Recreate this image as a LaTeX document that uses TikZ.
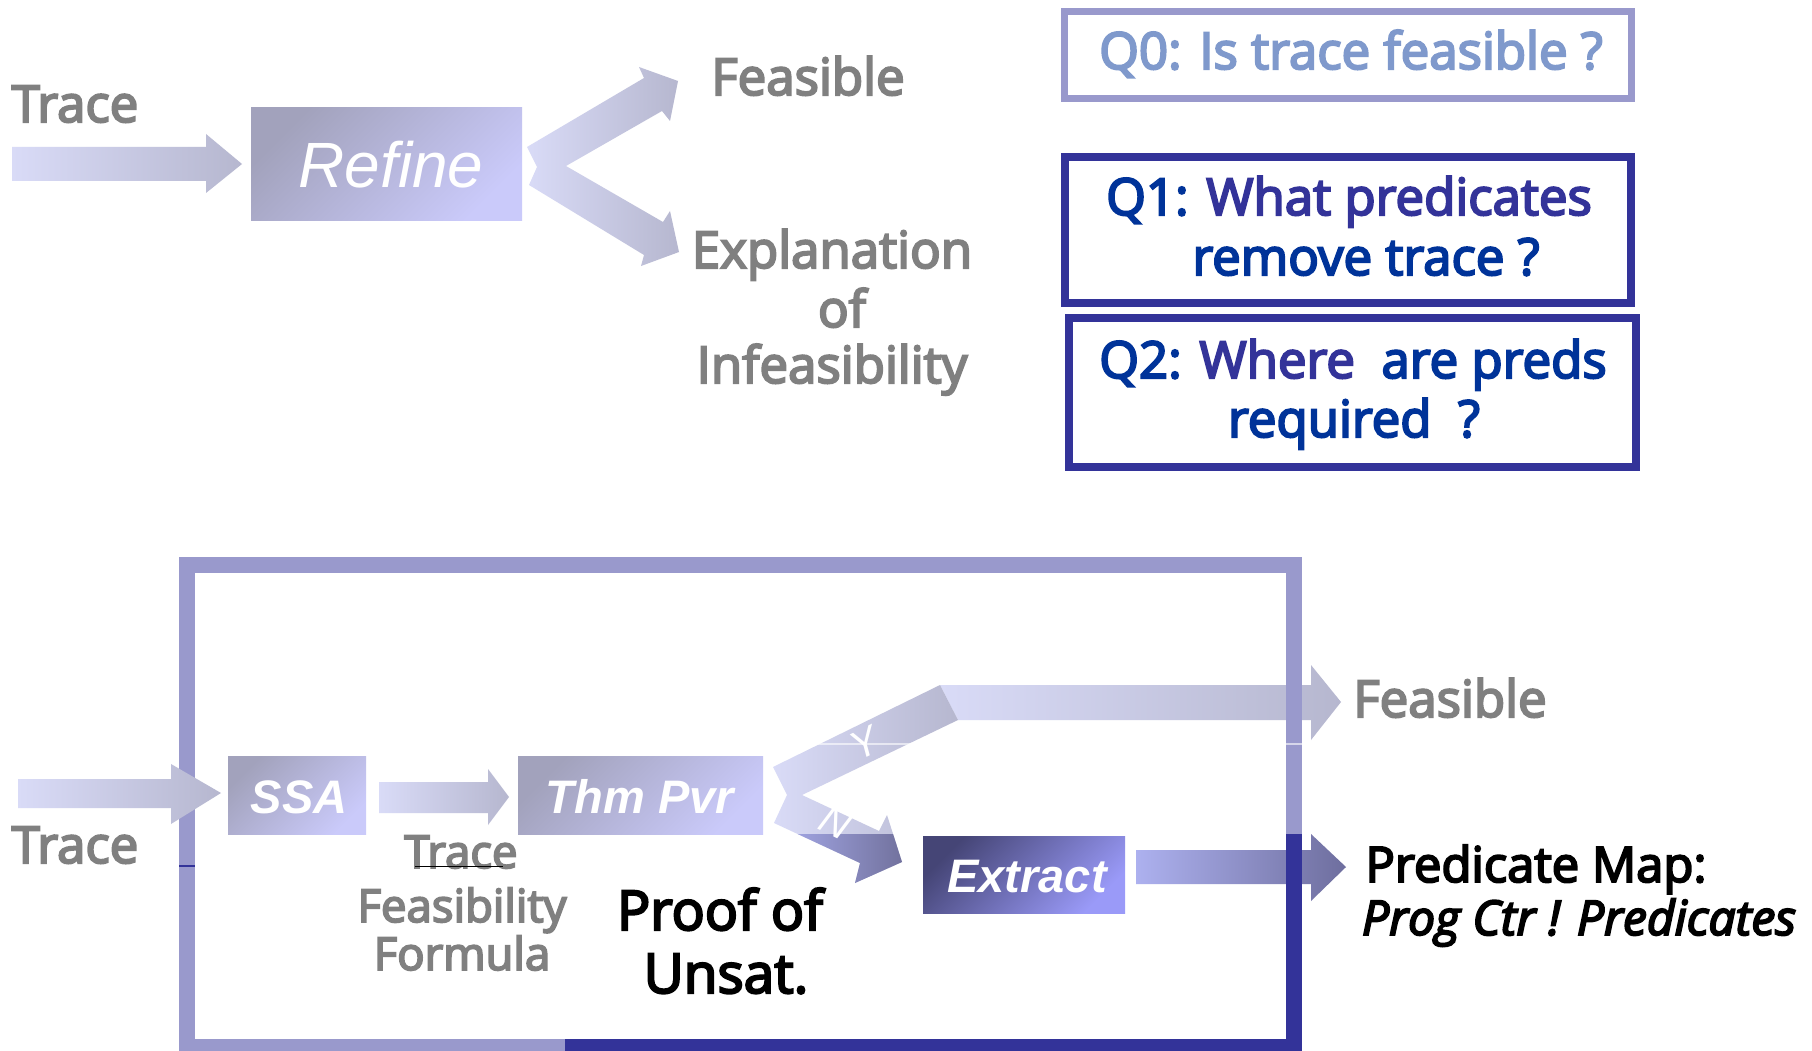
\documentclass[tikz,border=0pt]{standalone}
\usepackage{fontspec}
\newfontfamily\hs[FakeBold=4]{Open Sans}
\newfontfamily\ar{Liberation Sans}
\definecolor{labgray}{HTML}{808080}
\definecolor{qlight}{HTML}{9999CC}
\definecolor{qdark}{HTML}{333399}
\definecolor{qtextzero}{HTML}{7F99CC}
\definecolor{qblue}{HTML}{003399}
\definecolor{boxA}{HTML}{A2A2BC}
\definecolor{boxB}{HTML}{CACAFA}
\definecolor{arrL}{HTML}{D9DBF7}
\definecolor{arrR}{HTML}{B6B7CF}
\definecolor{extA}{HTML}{454576}
\definecolor{extB}{HTML}{9A9AF8}
\definecolor{prL}{HTML}{ADB1EF}
\definecolor{prR}{HTML}{6E6E9E}
\definecolor{nL}{HTML}{A8ACEC}
\definecolor{nR}{HTML}{72729E}
\begin{document}
\begin{tikzpicture}[x=1pt,y=-1pt,
  lbl/.style={inner sep=0pt, anchor=base, text=labgray, font=\hs\fontsize{51}{57}\selectfont},
  flbl/.style={inner sep=0pt, anchor=base, text=labgray, font=\hs\fontsize{45.5}{50}\selectfont},
  blk/.style={inner sep=0pt, anchor=base, text=black, font=\hs\fontsize{55}{62}\selectfont},
  qtxt/.style={inner sep=0pt, anchor=base, font=\hs\fontsize{51}{56}\selectfont},
  procbox/.style={top color=boxA, bottom color=boxB, shading angle=45, draw=none},
  boxtxt/.style={inner sep=0pt, anchor=base, text=white, font=\ar\bfseries\itshape\fontsize{47}{52}\selectfont},
  fatarrow/.style={left color=arrL, right color=arrR, draw=none},
  yn/.style={inner sep=0pt, text=white, font=\ar\itshape\fontsize{40}{44}\selectfont}]
\useasboundingbox (0,0) rectangle (1812,1051);
\fill[white] (0,0) rectangle (1812,1051);

% ---------- top part ----------
\shade[fatarrow] (12,147) -- (206,147) -- (206,134) -- (242,164) -- (206,193) -- (206,181) -- (12,181) -- cycle;
\shade[procbox] (251,108) rectangle (522,221);
\node[inner sep=0pt, anchor=base, text=white, font=\ar\itshape\fontsize{64}{70}\selectfont] (refine) at (391,188) {Refine};
\shade[fatarrow] (527,147) -- (644,78) -- (639,67) -- (678,81) -- (670,121) -- (662,111) -- (566,166)
  -- (663,222) -- (670,211) -- (679,252) -- (641,266) -- (644,255) -- (529,185) -- (537,167) -- cycle;
\node[lbl] (tracetop) at (75,122) {Trace};
\node[lbl] (feastop) at (808,95) {Feasible};
\node[lbl] (expl1) at (832,268) {Explanation};
\node[lbl] (expl2) at (842,327) {of};
\node[lbl] (expl3) at (832,383) {Infeasibility};

% question boxes
\draw[qlight, line width=7] (1064.5,11.5) rectangle (1631.5,98.5);
\node[qtxt, text=qtextzero] (q0) at (1351,69) {Q0: Is trace feasible ?};
\draw[qdark, line width=8] (1065,157) rectangle (1631,303);
\node[qtxt] (q1a) at (1349,215) {\textcolor{qblue}{Q1:} \textcolor{qdark}{What predicates}};
\node[qtxt, text=qblue] (q1b) at (1366,275) {remove trace ?};
\draw[qdark, line width=8] (1069,318) rectangle (1636,467);
\node[qtxt] (q2a) at (1353,378) {\textcolor{qblue}{Q2:} \textcolor{qdark}{Where}\ \ \textcolor{qblue}{are preds}};
\node[qtxt, text=qblue] (q2b) at (1354,437) {required\ \ ?};

% ---------- bottom part ----------
% arrows leaving the frame (frame drawn over them)
\shade[fatarrow] (940,685) -- (1311,685) -- (1311,665) -- (1341,702) -- (1311,740) -- (1311,720) -- (958,720) -- cycle;
\shade[left color=prL, right color=prR] (1136,850) -- (1311,850) -- (1311,834) -- (1346,867) -- (1311,901) -- (1311,884) -- (1136,884) -- cycle;
% Y/N fork
\shade[fatarrow] (773,767) -- (940,685) -- (958,720) -- (802,795) -- (879,831) -- (887,815) -- (902,862)
  -- (855,883) -- (860,863) -- (774,823) -- (787,795) -- cycle;
% frame
\draw[qlight, line width=16] (187,565) rectangle (1293.5,1047);
\begin{scope}
  \clip (565,834) rectangle (1812,1060);
  \shade[left color=nL, right color=nR] (802,795) -- (879,831) -- (887,815) -- (902,862)
    -- (855,883) -- (860,863) -- (774,823) -- (787,795) -- cycle;
  \draw[qdark, line width=16] (187,565) rectangle (1293.5,1047);
\end{scope}
\draw[white, opacity=0.6, line width=1.2] (815,744) -- (1302,744);
\draw[qdark, line width=1.2] (179,866) -- (195,866);

% trace input arrow (over the frame)
\shade[fatarrow] (18,779) -- (171,779) -- (171,764) -- (221,793) -- (171,824) -- (171,808) -- (18,808) -- cycle;
\shade[procbox] (228,756) rectangle (366,834);
\node[boxtxt] (ssa) at (299,813) {SSA};
\shade[fatarrow] (379,782) -- (488,782) -- (488,769) -- (509,797) -- (488,825) -- (488,813) -- (379,813) -- cycle;
\shade[procbox] (518,756) rectangle (763,834);
\node[boxtxt] (thm) at (640,813) {Thm Pvr};
\shade[top color=extA, bottom color=extB, shading angle=45] (923,836) rectangle (1125,913);
\node[boxtxt] (extract) at (1027,892) {Extract};

\node[yn, rotate=26] (ylab) at (864,743) {Y};
\node[yn, rotate=-26] (nlab) at (836,822) {N};

\node[lbl] (tracebot) at (75,863) {Trace};
\node[flbl] (tff1) at (461,868) {Trace};
\draw[black, line width=1] (415,866) -- (503,866);
\node[flbl] (tff2) at (462,922) {Feasibility};
\node[flbl] (tff3) at (462,970) {Formula};
\node[blk] (proof1) at (720,930) {Proof of};
\node[blk] (proof2) at (726,993) {Unsat.};
\node[lbl] (feasbot) at (1450,717) {Feasible};
\node[inner sep=0pt, anchor=base, text=black, font=\hs\fontsize{49}{56}\selectfont] (pmap1) at (1536,882) {Predicate Map:};
\node[inner sep=0pt, anchor=base, text=black, font=\hs\itshape\fontsize{48}{52}\selectfont] (pmap2) at (1579,935) {Prog Ctr ! Predicates};
\end{tikzpicture}
\end{document}
